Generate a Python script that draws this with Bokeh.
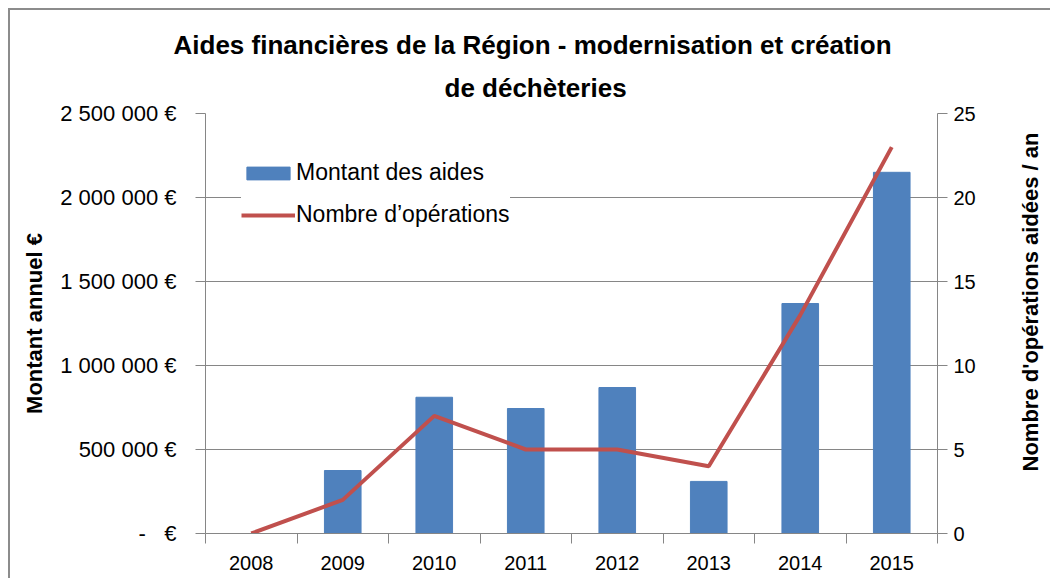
from bokeh.plotting import figure
from bokeh.layouts import row
from bokeh.models import (Range1d, LinearAxis, FixedTicker, Legend, LegendItem,
                          ColumnDataSource, Title)
from bokeh.embed import file_html
from bokeh.resources import INLINE

# ---- data ----
years = ["2008", "2009", "2010", "2011", "2012", "2013", "2014", "2015"]
montant = [0, 375000, 811000, 744000, 869000, 310000, 1369000, 2150000]
operations = [0, 2, 7, 5, 5, 4, 13, 23]
y_ticks = [0, 500000, 1000000, 1500000, 2000000, 2500000]
y_tick_labels = ["-\u00a0\u00a0\u00a0€", "500 000 €", "1 000 000 €", "1 500 000 €",
                 "2 000 000 €", "2 500 000 €"]
ops_ticks = [0, 5, 10, 15, 20, 25]
title_lines = ["Aides financières de la Région - modernisation  et création", "de déchèteries"]
left_label = "Montant annuel €"
right_label = "Nombre d'opérations aidées / an"

FONT = "Liberation Sans"
GREY = "#868686"

x_pos = [i + 0.5 for i in range(len(years))]
src = ColumnDataSource(dict(x=x_pos, montant=montant, ops=operations, year=years))

p = figure(width=1000, height=568, x_range=Range1d(0, len(years)),
           y_range=Range1d(0, 2500000), output_backend="svg", toolbar_location=None,
           min_border_left=195, min_border_right=73, min_border_top=103,
           min_border_bottom=45)
p.extra_y_ranges = {"ops": Range1d(0, 25)}
p.outline_line_color = None
p.background_fill_color = "white"
p.border_fill_color = "white"
p.title.visible = False

bars = p.vbar(x="x", top="montant", width=0.4, source=src, color="#4F81BD")
line = p.line(x="x", y="ops", source=src, y_range_name="ops",
              color="#C0504D", line_width=4)

# title: two lines, each centred near x=535 of the page (frame left = 205)
t2 = Title(text=title_lines[1], align="left", offset=239,
           text_font=FONT, text_font_size="26px", text_font_style="bold",
           text_color="#000000")
t1 = Title(text=title_lines[0], align="left", offset=-32,
           text_font=FONT, text_font_size="26px", text_font_style="bold",
           text_color="#000000")
if "standoff" in t2.properties():
    t2.standoff = 22
    t1.standoff = 0
p.add_layout(t2, "above")
p.add_layout(t1, "above")

# grid
p.xgrid.visible = False
p.ygrid.ticker = FixedTicker(ticks=y_ticks)
p.ygrid.grid_line_color = GREY
p.ygrid.grid_line_width = 1

# left axis
ya = p.yaxis[0]
ya.ticker = FixedTicker(ticks=y_ticks)
ya.major_label_overrides = dict(zip(y_ticks, y_tick_labels))
ya.axis_label = left_label

# bottom axis
xa = p.xaxis[0]
xa.ticker = FixedTicker(ticks=x_pos, minor_ticks=list(range(len(years) + 1)))
xa.major_label_overrides = dict(zip(x_pos, years))
xa.major_tick_out = 0
xa.major_tick_in = 0
xa.minor_tick_out = 10
xa.minor_tick_in = 0

# right axis
ra = LinearAxis(y_range_name="ops", ticker=FixedTicker(ticks=ops_ticks))
p.add_layout(ra, "right")

for ax in [ya, xa, ra]:
    ax.axis_line_color = GREY
    ax.major_tick_line_color = GREY
    ax.minor_tick_line_color = GREY
    ax.major_label_text_font = FONT
    ax.major_label_text_font_size = "20px"
    ax.major_label_text_color = "#000000"
    ax.axis_label_text_font = FONT
    ax.axis_label_text_font_size = "22px"
    ax.axis_label_text_font_style = "bold"
    ax.axis_label_text_color = "#000000"
for ax in [ya, ra]:
    ax.major_tick_out = 10
    ax.major_tick_in = 0
    ax.minor_tick_line_color = None
ya.major_label_text_font_size = "22px"
ya.major_label_standoff = 19
ra.major_label_standoff = 6
xa.major_label_standoff = 12
ya.axis_label_standoff = 10

legend = Legend(items=[LegendItem(label="Montant des aides", renderers=[bars]),
                       LegendItem(label="Nombre d’opérations", renderers=[line])],
                location=(36, 305), padding=12, spacing=15,
                glyph_width=54, glyph_height=16, label_standoff=1,
                label_text_font=FONT, label_text_font_size="23px",
                label_text_color="#000000",
                border_line_color=None, background_fill_color="white",
                background_fill_alpha=1.0)
p.add_layout(legend)

# narrow strip on the right carrying the secondary-axis title (reads bottom-to-top)
p_lab = figure(width=40, height=568, x_range=Range1d(0, 1), y_range=Range1d(0, 1),
               output_backend="svg", toolbar_location=None,
               min_border_left=0, min_border_right=0, min_border_top=6,
               min_border_bottom=0)
p_lab.title.visible = False
p_lab.axis.visible = False
p_lab.grid.visible = False
p_lab.outline_line_color = None
p_lab.background_fill_color = "white"
p_lab.border_fill_color = "white"
p_lab.add_layout(Title(text=right_label, align="right", offset=19,
                       text_font=FONT, text_font_size="22px", text_font_style="bold",
                       text_color="#000000"), "left")

layout = row(p, p_lab)
layout.styles = {"margin-left": "8px", "margin-top": "8px",
                 "border-left": "2px solid #8c8c8c", "border-top": "2px solid #8c8c8c"}

open("out.html", "w").write(file_html(layout, INLINE))
